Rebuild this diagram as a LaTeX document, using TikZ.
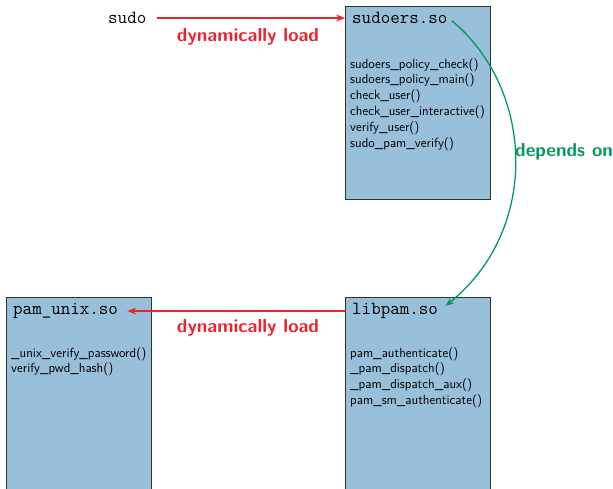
\documentclass[tikz,border=0pt]{standalone}
\usetikzlibrary{arrows.meta}
\definecolor{boxfill}{RGB}{153,192,218}
\definecolor{lblred}{RGB}{236,34,44}
\definecolor{lblgreen}{RGB}{0,155,85}
\tikzset{
  libbox/.style={draw=black!80, line width=0.8pt, fill=boxfill, anchor=north west, minimum width=145pt, minimum height=200pt, inner sep=0pt},
  libtitle/.style={anchor=west, inner sep=1pt, font=\fontsize{18.5}{20}\selectfont\ttfamily},
  funclist/.style={anchor=north west, inner sep=0pt, align=left, font=\fontsize{13.2}{15.8}\selectfont\sffamily},
  lbl/.style={inner sep=0pt, font=\fontsize{18.8}{21}\selectfont\sffamily\bfseries},
  redarrow/.style={draw=lblred, line width=1.3pt, -{Stealth[length=9pt,width=7pt]}},
  greenarrow/.style={draw=lblgreen, line width=1.3pt, -{Stealth[length=9pt,width=7pt]}},
}
\begin{document}
\begin{tikzpicture}[x=1pt,y=-1pt]
\useasboundingbox (0,0) rectangle (613,488);
\begin{scope}
\clip (0,0) rectangle (613,488);
% boxes
\node[libbox, minimum height=193pt] (sudoersbox) at (345,6) {};
\node[libbox, minimum height=200pt] (libpambox) at (345,297) {};
\node[libbox, minimum height=200pt] (pamunixbox) at (6,297) {};
\end{scope}
% titles
\node[libtitle] (sudo) at (107,18) {sudo};
\node[libtitle] (sudoerst) at (351,18) {sudoers.so};
\node[libtitle] (libpamt) at (351,311) {libpam.so};
\node[libtitle] (pamunixt) at (12,311) {pam\_unix.so};
% function lists
\node[funclist] (sudoersf) at (350,58) {sudoers\_policy\_check()\\sudoers\_policy\_main()\\check\_user()\\check\_user\_interactive()\\verify\_user()\\sudo\_pam\_verify()};
\node[funclist] (libpamf) at (350,347) {pam\_authenticate()\\\_pam\_dispatch()\\\_pam\_dispatch\_aux()\\pam\_sm\_authenticate()};
\node[funclist] (pamunixf) at (11,347) {\_unix\_verify\_password()\\verify\_pwd\_hash()};
% connectors
\draw[redarrow, shorten <=9pt] (sudo.east) -- (sudo.east -| sudoersbox.west);
\node[lbl, text=lblred] (lbl1) at (248,37) {dynamically load};
\draw[redarrow, shorten >=8pt] (libpamt.west -| libpambox.west) -- (pamunixt.east);
\node[lbl, text=lblred] (lbl2) at (248,328) {dynamically load};
\draw[greenarrow, shorten <=4pt, shorten >=8pt] (sudoerst.east) .. controls (535,90) and (540,230) .. (libpamt.east);
\node[lbl, text=lblgreen, anchor=west] (lbl3) at (515,152) {depends on};
\end{tikzpicture}
\end{document}
